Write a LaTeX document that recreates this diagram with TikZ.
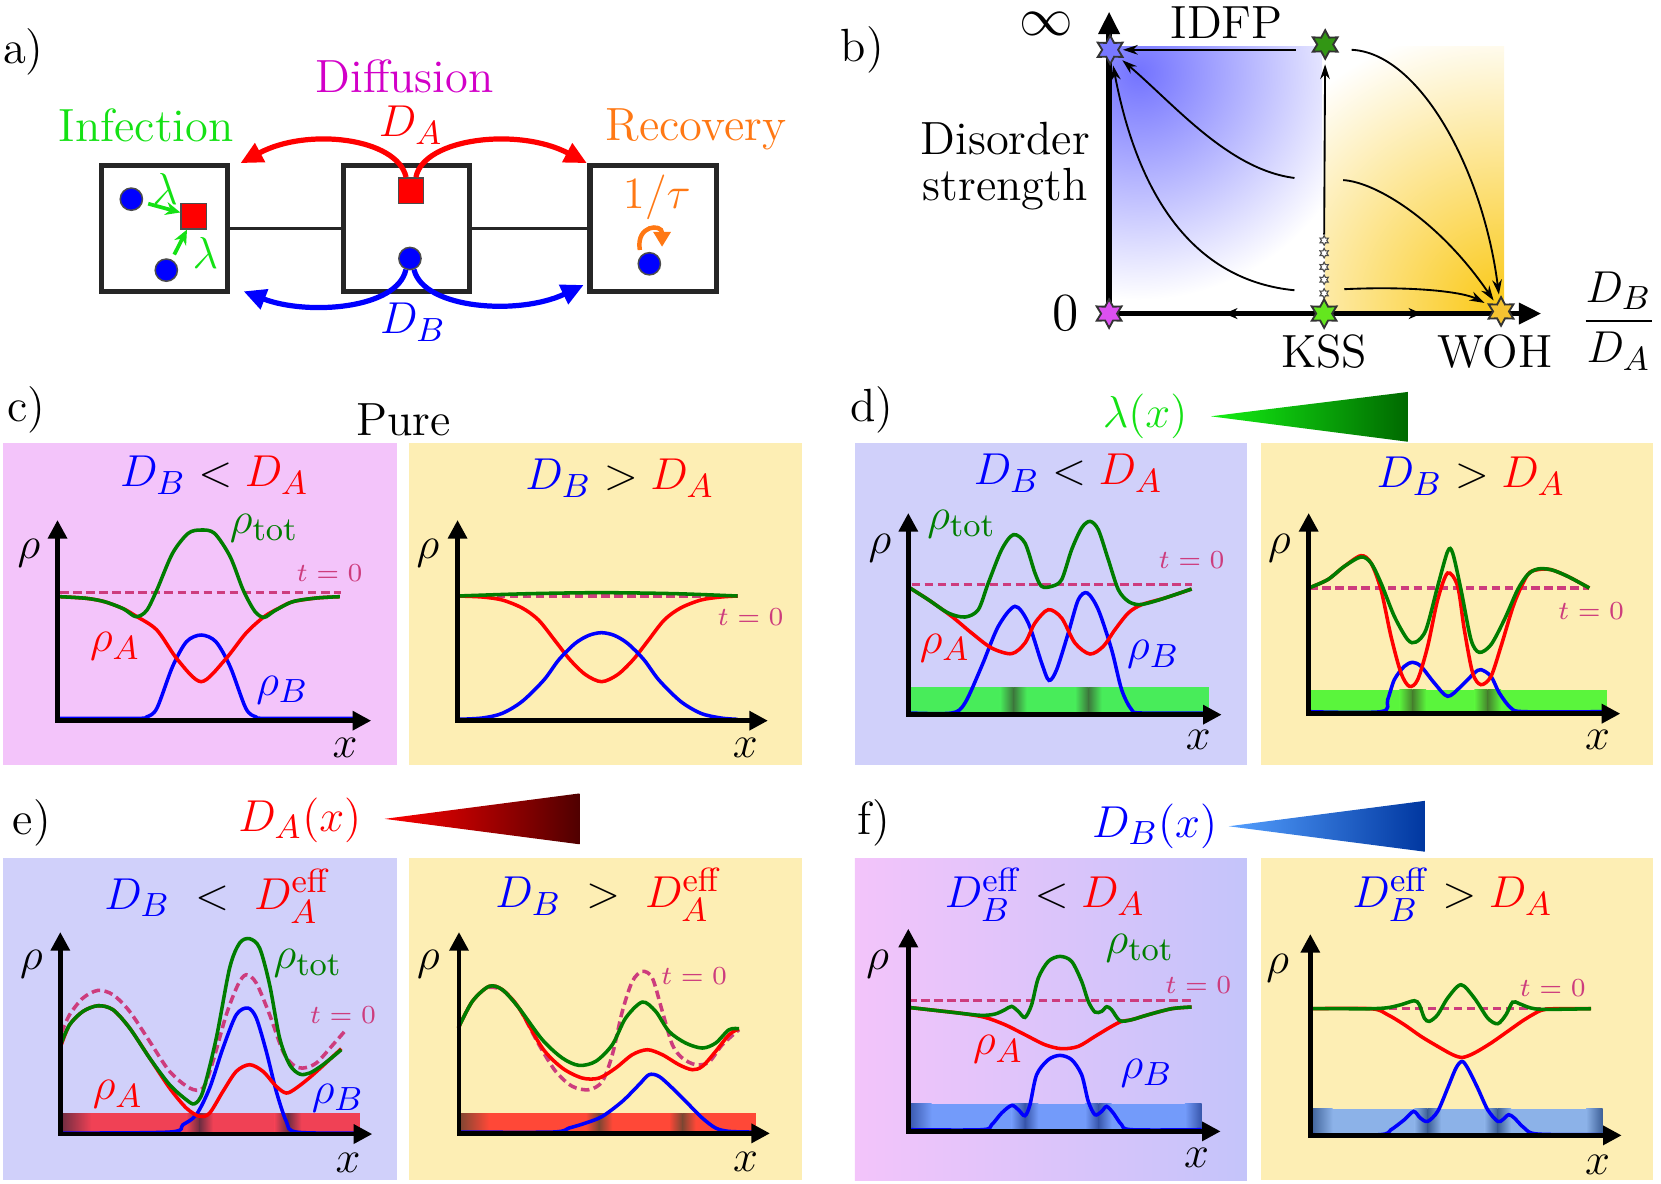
\documentclass[tikz,border=0pt]{standalone}
\usepackage{amsmath}
\usetikzlibrary{arrows.meta,shapes.geometric}

\definecolor{pinkbg}{RGB}{243,196,250}
\definecolor{yelbg}{RGB}{253,238,180}
\definecolor{lavbg}{RGB}{208,208,250}
\definecolor{lavbgR}{RGB}{196,196,250}
\definecolor{tzero}{RGB}{205,60,125}
\definecolor{rhotot}{RGB}{0,125,0}
\definecolor{infgreen}{RGB}{20,225,20}
\definecolor{recorange}{RGB}{255,120,20}
\definecolor{diffmag}{RGB}{210,0,200}
\definecolor{idfpblue}{RGB}{120,120,255}
\definecolor{topgreen}{RGB}{50,150,20}
\definecolor{puremag}{RGB}{220,80,240}
\definecolor{kssgreen}{RGB}{100,230,30}
\definecolor{wohgold}{RGB}{245,195,50}
\definecolor{glowblue}{RGB}{115,115,255}
\definecolor{glowgold}{RGB}{250,200,20}
\definecolor{gbarL}{RGB}{72,236,90}
\definecolor{gdarkL}{RGB}{60,120,60}
\definecolor{gbarR}{RGB}{90,245,60}
\definecolor{gdarkR}{RGB}{70,130,45}
\definecolor{rbarL}{RGB}{240,65,85}
\definecolor{rdarkL}{RGB}{110,45,65}
\definecolor{rbarR}{RGB}{255,72,55}
\definecolor{rdarkR}{RGB}{125,70,50}
\definecolor{bbarL}{RGB}{115,155,250}
\definecolor{bdarkL}{RGB}{55,85,170}
\definecolor{bbarR}{RGB}{140,178,232}
\definecolor{bdarkR}{RGB}{60,95,150}
\definecolor{lamlight}{RGB}{20,240,20}
\definecolor{lamdark}{RGB}{0,105,0}
\definecolor{dalight}{RGB}{255,0,0}
\definecolor{dadark}{RGB}{80,0,0}
\definecolor{dblight}{RGB}{85,160,255}
\definecolor{dbdark}{RGB}{0,55,160}

\tikzset{
  every node/.style={font=\fontsize{12.5}{15}\selectfont},
  site/.style={draw=black!85, line width=1.4pt, minimum size=1.19cm, inner sep=0pt},
  link/.style={black!85, line width=0.9pt},
  partB/.style={circle, draw=black!70, fill=blue, line width=0.4pt, minimum size=0.21cm, inner sep=0pt},
  partA/.style={rectangle, draw=black!70, fill=red, line width=0.4pt, minimum size=0.24cm, inner sep=0pt},
  hopA/.style={red, line width=1.4pt, -{Triangle[length=6pt,width=5.5pt]}},
  hopB/.style={blue, line width=1.4pt, -{Triangle[length=6pt,width=5.5pt]}},
  infect/.style={infgreen, line width=1pt, shorten <=1.5pt, -{Stealth[length=4pt,width=3.5pt]}},
  recov/.style={recorange, line width=1.2pt, -{Triangle[length=4pt,width=4.5pt]}},
  fp/.style={star, star points=6, star point ratio=1.8, draw=black!80, line width=0.5pt, minimum size=0.27cm, inner sep=0pt},
  tinystar/.style={star, star points=6, star point ratio=1.8, draw=black!70, fill=white, line width=0.3pt, minimum size=0.09cm, inner sep=0pt},
  flow/.style={line width=0.5pt, shorten >=1pt, -{Stealth[length=4pt,width=2.6pt]}},
  axmark/.style={line width=0.3pt, -{Stealth[length=3.5pt,width=3pt]}},
  bigax/.style={line width=1.4pt, {Triangle[length=6pt,width=5.5pt]}-{Triangle[length=6pt,width=5.5pt]}},
  ax/.style={line width=1.2pt, {Triangle[length=5pt,width=5pt]}-{Triangle[length=5pt,width=5pt]}},
  crv/.style={line width=0.95pt},
  tz/.style={tzero, line width=0.95pt, dash pattern=on 2.3pt off 1.2pt},
  tzlbl/.style={tzero, font=\fontsize{7.5}{9}\selectfont},
}

% shaded stripe in the coupling bar
\newcommand{\band}[5]{%
  \shade[left color=#4,right color=#5] ({#1-40},#2) rectangle (#1,#3);
  \shade[left color=#5,right color=#4] (#1,#2) rectangle ({#1+40},#3);}

% rho-x axes with their labels
\newcommand{\rhoaxes}[9]{%
  \draw[ax] (#2,#4) -- (#2,#3) -- (#5,#3);
  \node (#1rho) at (#6,#7) {$\rho$};
  \node (#1x) at (#8,#9) {$x$};}

\begin{document}
\begin{tikzpicture}[x=0.01cm, y=-0.01cm]
\useasboundingbox (0,0) rectangle (1568,1117);

%% a) the reaction-diffusion model
\node (lbla) at (22,49) {a)};
\node[diffmag] (tdiff) at (382,72) {Diffusion};
\node[infgreen] (tinf) at (138,118) {Infection};
\node[recorange] (trec) at (657,122) {Recovery};
\node[red] (tDA) at (388,118) {$D_A$};
\node[blue] (tDB) at (390,304) {$D_B$};

\node[site] (site1) at (155.5,215.5) {};
\node[site] (site2) at (383.5,215.5) {};
\node[site] (site3) at (616.5,215.5) {};
\draw[link] (site1) -- (site2);
\draw[link] (site2) -- (site3);

\node[partB] (b1) at (124,188) {};
\node[partB] (b2) at (157,255) {};
\node[partA] (a1) at (183,204) {};
\node[partA] (a2) at (388,180) {};
\node[partB] (b3) at (387,244) {};
\node[partB] (b4) at (613,249) {};

\draw[infect] (b1) -- (a1);
\draw[infect] (b2) -- (a1);
\node[infgreen] (lam1) at (156,178) {$\lambda$};
\node[infgreen] (lam2) at (194,239) {$\lambda$};

\coordinate (hopAl) at (227,154);
\coordinate (hopAr) at (554,154);
\coordinate (hopBl) at (230,275);
\coordinate (hopBr) at (551,269);
\draw[hopA] (a2.110) .. controls (375,130) and (290,120) .. (hopAl);
\draw[hopA] (a2.70) .. controls (400,130) and (490,120) .. (hopAr);
\draw[hopB] (b3.250) .. controls (375,292) and (290,298) .. (hopBl);
\draw[hopB] (b3.290) .. controls (400,292) and (490,298) .. (hopBr);

\draw[recov] (604,236) .. controls (600,212) and (625,211) .. (625,233);
\node[recorange] (ttau) at (620,186) {$1/\tau$};

%% b) flow diagram
\node (lblb) at (814,47) {b)};
\begin{scope}
  \clip (1047,44) rectangle (1248,296);
  \shade[inner color=glowblue, outer color=white] (1075,68) circle (215);
\end{scope}
\begin{scope}
  \clip (1251,44) rectangle (1420,296);
  \shade[inner color=glowgold, outer color=white] (1418,292) circle (270);
\end{scope}
\draw[bigax] (1047,11) -- (1047,296) -- (1455,296);
\draw[axmark] (1164,296) -- (1156,296);
\draw[axmark] (1334,296) -- (1342,296);

\node[fp, fill=idfpblue] (sIDFP) at (1048,47) {};
\node[fp, fill=topgreen] (sTop) at (1251,42) {};
\node[fp, fill=puremag] (sPure) at (1047,296) {};
\node[fp, fill=kssgreen] (sKSS) at (1250,296) {};
\node[fp, fill=wohgold] (sWOH) at (1417,294) {};
\foreach \i/\yy in {1/227,2/239,3/252,4/264,5/277}
  \node[tinystar] (ws\i) at (1250,\yy) {};

\coordinate (idfpIn) at (1223,47);
\coordinate (flA) at (1222,168);
\coordinate (flB) at (1222,274);
\coordinate (flC) at (1276,47);
\coordinate (flD) at (1268,170);
\coordinate (flE) at (1269,273);
\draw[flow] (ws1) -- (sTop);
\draw[flow] (idfpIn) -- (sIDFP);
\draw[flow] (flA) .. controls (1160,160) and (1110,100) .. (sIDFP);
\draw[flow] (flB) .. controls (1130,265) and (1075,190) .. (sIDFP);
\draw[flow] (flC) .. controls (1340,50) and (1400,160) .. (sWOH);
\draw[flow] (flD) .. controls (1300,172) and (1360,210) .. (sWOH);
\draw[flow] (flE) .. controls (1330,270) and (1380,275) .. (sWOH);

\node[inner sep=0pt, font=\fontsize{15}{16}\selectfont] (tinf2) at (988,23) {$\infty$};
\node[font=\fontsize{15}{16}\selectfont] (tzero2) at (1006,296) {$0$};
\node (tidfp) at (1158,21) {IDFP};
\node[align=center, font=\fontsize{12.5}{12.5}\selectfont] (tdis) at (949,157) {Disorder\\strength};
\node (tkss) at (1250,332) {KSS};
\node (twoh) at (1411,332) {WOH};
\node (tfrac) at (1528,303) {$\dfrac{D_B}{D_A}$};

%% c) pure
\node (lblc) at (25,387) {c)};
\node (tpure) at (381,396) {Pure};
\begin{scope}[shift={(3.0,418.2)}, scale=0.31467]
  \fill[pinkbg] (0,0) rectangle (1180,966);
  \draw[tz] (171,448) -- (1013,448);
  \draw[crv, blue] plot[smooth] coordinates {(171,826) (400,826) (430,822) (461,796) (508,671) (550,596) (594,576) (638,596) (681,671) (728,796) (759,822) (790,826) (1073,826)};
  \draw[crv, red] plot[smooth] coordinates {(171,461) (250,466) (304,476) (360,497) (398,519) (461,561) (524,651) (594,716) (665,651) (728,571) (783,521) (830,494) (869,476) (940,465) (1010,461)};
  \draw[crv, rhotot] plot[smooth] coordinates {(171,461) (250,466) (304,476) (360,497) (398,521) (430,503) (461,441) (508,331) (555,271) (594,261) (634,271) (681,341) (720,441) (755,505) (783,523) (815,503) (869,476) (940,465) (1010,461)};
  \rhoaxes{c1}{163}{833}{231}{1104}{77}{331}{1026}{916}
  \node (c1title) at (634,96) {$\textcolor{blue}{D_B} < \textcolor{red}{D_A}$};
  \node[rhotot] (c1tot) at (783,256) {$\rho_{\mathrm{tot}}$};
  \node[red] (c1A) at (336,611) {$\rho_A$};
  \node[blue] (c1B) at (838,741) {$\rho_B$};
  \node[tzlbl] (c1t) at (979,391) {$t=0$};
\end{scope}
\begin{scope}[shift={(386.0,418.2)}, scale=0.31467]
  \fill[yelbg] (0,0) rectangle (1180,966);
  \draw[tz] (146,459) -- (986,459);
  \draw[crv, red] plot[smooth] coordinates {(146,459) (220,462) (280,471) (340,495) (389,531) (440,595) (484,651) (530,695) (578,716) (626,695) (672,651) (716,595) (766,531) (815,495) (876,471) (936,462) (986,459)};
  \draw[crv, blue] plot[smooth] coordinates {(146,829) (220,825) (280,811) (340,775) (405,711) (450,650) (499,601) (540,577) (578,569) (616,577) (656,601) (705,650) (750,711) (815,775) (876,811) (936,825) (986,829)};
  \draw[crv, rhotot] plot[smooth] coordinates {(146,459) (360,452) (578,449) (800,452) (986,459)};
  \rhoaxes{c2}{146}{833}{231}{1077}{57}{331}{1009}{916}
  \node (c2title) at (633,106) {$\textcolor{blue}{D_B} > \textcolor{red}{D_A}$};
  \node[tzlbl] (c2t) at (1025,521) {$t=0$};
\end{scope}

%% d) disordered infection rate
\node (lbld) at (823,387) {d)};
\node[infgreen] (tlamx) at (1081,393) {$\lambda(x)$};
\shade[left color=lamlight, right color=lamdark] (1143,393) -- (1329,370) -- (1329,417) -- cycle;
\begin{scope}[shift={(807.1,418.2)}, scale=0.31467]
  \fill[lavbg] (0,0) rectangle (1176,966);
  \fill[gbarL] (165,733) rectangle (1062,808);
  \band{475}{733}{808}{gbarL}{gdarkL}
  \band{700}{733}{808}{gbarL}{gdarkL}
  \draw[tz] (170,425) -- (1010,425);
  \draw[crv, blue] plot[smooth] coordinates {(165,810) (290,810) (330,780) (380,670) (430,550) (480,490) (520,540) (560,660) (582,712) (605,680) (640,570) (670,470) (697,450) (730,500) (770,620) (800,740) (830,800) (860,810) (1050,810)};
  \draw[crv, red] plot[smooth] coordinates {(165,435) (220,470) (290,520) (350,570) (410,615) (470,632) (510,600) (540,540) (580,500) (620,525) (660,600) (705,633) (745,610) (780,560) (820,510) (860,485) (930,465) (1010,438)};
  \draw[crv, rhotot] plot[smooth] coordinates {(165,435) (220,470) (280,510) (330,522) (370,500) (400,420) (440,320) (475,275) (510,300) (540,390) (560,430) (590,430) (620,410) (650,320) (680,255) (705,235) (730,260) (760,350) (790,440) (820,475) (850,485) (880,480) (930,465) (1010,438)};
  \rhoaxes{d1}{160}{815}{210}{1100}{75}{315}{1030}{890}
  \node (d1title) at (640,90) {$\textcolor{blue}{D_B} < \textcolor{red}{D_A}$};
  \node[rhotot] (d1tot) at (320,245) {$\rho_{\mathrm{tot}}$};
  \node[red] (d1A) at (270,615) {$\rho_A$};
  \node[blue] (d1B) at (895,635) {$\rho_B$};
  \node[tzlbl] (d1t) at (1010,350) {$t=0$};
\end{scope}
\begin{scope}[shift={(1190.4,418.2)}, scale=0.31467]
  \fill[yelbg] (0,0) rectangle (1176,966);
  \fill[gbarR] (143,740) rectangle (1038,808);
  \band{455}{740}{808}{gbarR}{gdarkR}
  \band{680}{740}{808}{gbarR}{gdarkR}
  \draw[tz] (145,435) -- (985,435);
  \draw[crv, blue] plot[smooth] coordinates {(143,806) (360,806) (380,770) (400,710) (430,670) (455,658) (480,670) (520,720) (560,760) (600,730) (640,690) (660,680) (690,700) (715,750) (750,795) (790,806) (1030,806)};
  \draw[crv, red] plot[smooth] coordinates {(143,435) (200,410) (250,370) (300,338) (330,360) (360,440) (390,580) (420,690) (445,730) (470,710) (500,610) (530,470) (560,390) (590,430) (610,560) (635,690) (660,725) (690,700) (720,610) (760,480) (800,395) (830,380) (870,380) (920,400) (985,435)};
  \draw[crv, rhotot] plot[smooth] coordinates {(143,435) (200,410) (250,370) (300,342) (330,360) (360,420) (400,520) (440,590) (465,597) (495,560) (530,430) (560,325) (575,330) (600,440) (630,590) (655,628) (690,605) (730,530) (770,440) (800,395) (830,378) (870,380) (920,400) (985,435)};
  \rhoaxes{d2}{143}{812}{210}{1078}{55}{315}{1010}{890}
  \node (d2title) at (630,100) {$\textcolor{blue}{D_B} > \textcolor{red}{D_A}$};
  \node[tzlbl] (d2t) at (990,505) {$t=0$};
\end{scope}

%% e) disordered D_A
\node (lble) at (30,777) {e)};
\node[red, inner sep=1pt] (tDAx) at (283,774) {$D_A(x)$};
\shade[left color=dalight, right color=dadark] (363,773) -- (547,749) -- (547,797) -- cycle;
\begin{scope}[shift={(2.8,810.0)}, scale=0.31467]
  \fill[lavbg] (0,0) rectangle (1182,966);
  \fill[rbarL] (175,765) rectangle (1070,828);
  \shade[left color=rdarkL, right color=rbarL] (175,765) rectangle (265,828);
  \band{590}{765}{828}{rbarL}{rdarkL}
  \band{855}{765}{828}{rbarL}{rdarkL}
  \draw[tz] plot[smooth] coordinates {(175,525) (200,470) (240,420) (285,397) (330,410) (380,460) (440,550) (500,640) (560,690) (600,690) (630,610) (670,470) (705,380) (730,350) (760,375) (800,470) (840,580) (870,620) (900,630) (940,615) (990,560) (1025,520)};
  \draw[crv, blue] plot[smooth] coordinates {(175,825) (500,822) (540,800) (580,770) (620,690) (660,570) (700,470) (735,450) (760,480) (790,580) (820,700) (850,790) (880,822) (1060,825)};
  \draw[crv, red] plot[smooth] coordinates {(175,560) (200,500) (240,460) (285,443) (330,455) (380,510) (440,600) (500,690) (550,750) (590,775) (620,765) (660,700) (700,640) (740,620) (780,640) (820,685) (850,705) (880,690) (930,650) (1015,572)};
  \draw[crv, rhotot] plot[smooth] coordinates {(175,555) (200,500) (240,460) (285,443) (330,455) (380,510) (440,600) (500,680) (550,725) (575,737) (600,700) (640,540) (680,330) (710,255) (740,242) (770,270) (800,380) (830,540) (860,620) (890,648) (920,645) (960,620) (1015,575)};
  \rhoaxes{e1}{172}{828}{222}{1108}{85}{320}{1035}{915}
  \node[inner sep=1pt] (e1title) at (645,115) {$\textcolor{blue}{D_B} \;<\; \textcolor{red}{D_A^{\mathrm{eff}}}$};
  \node[rhotot] (e1tot) at (915,315) {$\rho_{\mathrm{tot}}$};
  \node[red] (e1A) at (345,710) {$\rho_A$};
  \node[blue] (e1B) at (1005,720) {$\rho_B$};
  \node[tzlbl] (e1t) at (1020,470) {$t=0$};
\end{scope}
\begin{scope}[shift={(386.1,810.0)}, scale=0.31467]
  \fill[yelbg] (0,0) rectangle (1180,966);
  \fill[rbarR] (150,765) rectangle (1040,826);
  \shade[left color=rdarkR, right color=rbarR] (150,765) rectangle (240,826);
  \band{570}{765}{826}{rbarR}{rdarkR}
  \band{820}{765}{826}{rbarR}{rdarkR}
  \draw[tz] plot[smooth] coordinates {(240,388) (280,395) (330,450) (390,560) (440,640) (490,685) (540,695) (580,670) (610,590) (640,460) (670,370) (700,340) (730,360) (760,460) (790,560) (820,600) (860,620) (900,612) (940,560) (990,515)};
  \draw[crv, blue] plot[smooth] coordinates {(150,822) (430,822) (480,810) (530,795) (580,775) (640,730) (690,680) (720,650) (750,655) (790,690) (840,740) (880,780) (920,810) (960,820) (1030,822)};
  \draw[crv, red] plot[smooth] coordinates {(148,510) (190,430) (240,385) (280,395) (330,450) (400,570) (460,630) (520,660) (570,660) (620,630) (670,590) (715,575) (760,590) (810,620) (850,635) (880,625) (920,580) (960,530) (990,512)};
  \draw[crv, rhotot] plot[smooth] coordinates {(148,510) (190,430) (240,385) (280,395) (330,450) (400,545) (460,600) (510,622) (560,610) (610,560) (650,480) (700,432) (740,460) (780,520) (830,555) (880,570) (920,555) (960,515) (990,512)};
  \rhoaxes{e2}{150}{826}{222}{1083}{58}{320}{1010}{910}
  \node[inner sep=1pt] (e2title) at (600,110) {$\textcolor{blue}{D_B} \;>\; \textcolor{red}{D_A^{\mathrm{eff}}}$};
  \node[tzlbl] (e2t) at (855,355) {$t=0$};
\end{scope}

%% f) disordered D_B
\node (lblf) at (825,777) {f)};
\node[blue, inner sep=1pt] (tDBx) at (1090,780) {$D_B(x)$};
\shade[left color=dblight, right color=dbdark] (1160,780) -- (1345,756) -- (1345,804) -- cycle;
\begin{scope}[shift={(807.1,810.0)}, scale=0.31467]
  \shade[left color=pinkbg, right color=lavbgR] (0,0) rectangle (1176,966);
  \fill[bbarL] (160,737) rectangle (1040,815);
  \shade[left color=bdarkL, right color=bbarL] (160,737) rectangle (230,815);
  \shade[left color=bbarL, right color=bdarkL] (990,737) rectangle (1040,815);
  \band{510}{737}{815}{bbarL}{bdarkL}
  \band{730}{737}{815}{bbarL}{bdarkL}
  \draw[tz] (160,428) -- (1010,428);
  \draw[crv, blue] plot[smooth] coordinates {(160,815) (380,815) (410,800) (440,765) (470,742) (490,755) (510,773) (525,740) (545,650) (580,605) (615,592) (650,605) (680,650) (700,730) (720,770) (740,760) (755,745) (775,765) (800,800) (830,815) (1040,815)};
  \draw[crv, red] plot[smooth] coordinates {(160,448) (250,458) (320,466) (390,478) (450,500) (510,530) (570,560) (620,572) (670,565) (720,535) (770,505) (800,490) (830,485) (880,470) (950,452) (1010,447)};
  \draw[crv, rhotot] plot[smooth] coordinates {(160,448) (250,458) (320,466) (380,472) (420,468) (450,455) (470,445) (490,460) (510,478) (530,440) (550,360) (580,310) (615,295) (650,310) (680,370) (700,430) (720,462) (740,460) (755,446) (770,455) (795,488) (830,485) (880,470) (950,452) (1010,447)};
  \rhoaxes{f1}{160}{820}{212}{1097}{68}{320}{1025}{900}
  \node[inner sep=1pt] (f1title) at (570,110) {$\textcolor{blue}{D_B^{\mathrm{eff}}} < \textcolor{red}{D_A}$};
  \node[rhotot] (f1tot) at (855,270) {$\rho_{\mathrm{tot}}$};
  \node[red] (f1A) at (430,575) {$\rho_A$};
  \node[blue] (f1B) at (875,645) {$\rho_B$};
  \node[tzlbl] (f1t) at (1030,380) {$t=0$};
\end{scope}
\begin{scope}[shift={(1190.4,810.0)}, scale=0.31467]
  \fill[yelbg] (0,0) rectangle (1176,966);
  \fill[bbarR] (148,752) rectangle (1025,830);
  \shade[left color=bdarkR, right color=bbarR] (148,752) rectangle (215,830);
  \shade[left color=bbarR, right color=bdarkR] (975,752) rectangle (1025,830);
  \band{500}{752}{830}{bbarR}{bdarkR}
  \band{710}{752}{830}{bbarR}{bdarkR}
  \draw[tz] (148,452) -- (990,452);
  \draw[crv, blue] plot[smooth] coordinates {(148,830) (355,830) (390,815) (430,785) (458,760) (478,780) (500,790) (530,760) (560,690) (585,630) (603,610) (620,630) (650,690) (680,755) (710,790) (725,785) (743,770) (760,780) (790,810) (830,828) (1025,830)};
  \draw[crv, red] plot[smooth] coordinates {(148,452) (330,452) (380,470) (430,500) (480,535) (530,565) (575,590) (605,598) (640,585) (690,555) (740,520) (790,485) (840,457) (880,452) (990,452)};
  \draw[crv, rhotot] plot[smooth] coordinates {(148,452) (250,452) (330,452) (380,449) (420,440) (460,428) (475,440) (490,480) (505,490) (530,470) (560,420) (600,380) (640,420) (680,480) (710,497) (735,470) (755,432) (775,437) (810,450) (850,454) (990,452)};
  \rhoaxes{f2}{148}{832}{228}{1082}{50}{330}{1010}{920}
  \node[inner sep=1pt] (f2title) at (575,110) {$\textcolor{blue}{D_B^{\mathrm{eff}}} > \textcolor{red}{D_A}$};
  \node[tzlbl] (f2t) at (875,390) {$t=0$};
\end{scope}
\end{tikzpicture}
\end{document}
